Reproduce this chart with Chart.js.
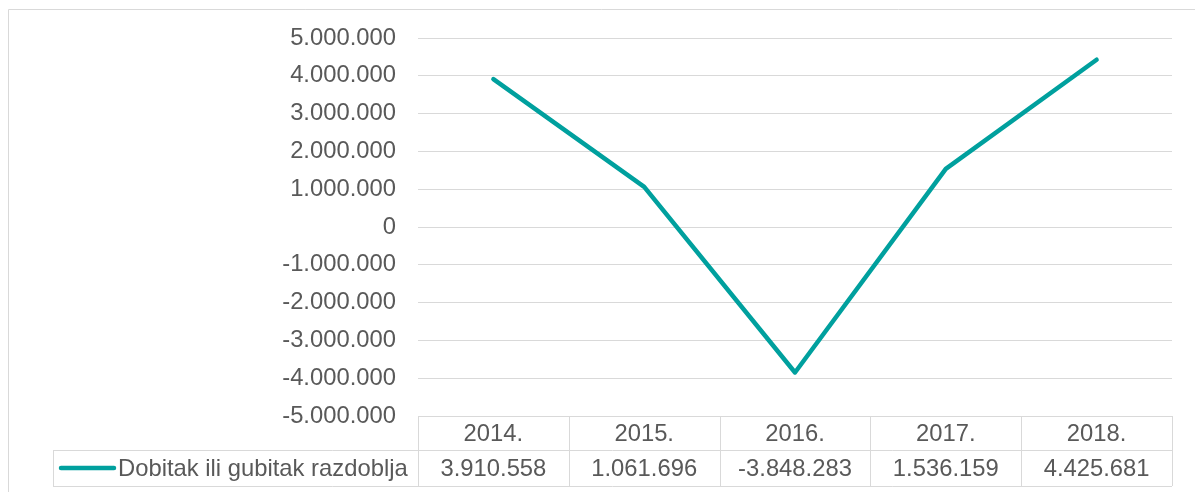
<!DOCTYPE html>
<html>
<head>
<meta charset="utf-8">
<script src="https://cdn.jsdelivr.net/npm/chart.js@4.4.0/dist/chart.umd.min.js"></script>
<style>
  html, body { margin: 0; padding: 0; background: #fff; }
  #wrap { width: 1195px; height: 492px; }
</style>
</head>
<body>
<div id="wrap"><canvas id="chart" width="1195" height="492"></canvas></div>
<script>
// --- data
const years = ["2014.", "2015.", "2016.", "2017.", "2018."];
const seriesName = "Dobitak ili gubitak razdoblja";
const profit = [3910558, 1061696, -3848283, 1536159, 4425681];
const yMin = -5000000, yMax = 5000000, yStep = 1000000;

const TEAL = "#00A09E";
const GRID = "#D9D9D9";
const TEXT = "#595959";
const FONT = "Liberation Sans, Arial, sans-serif";
const FSIZE = 23.8;

// 1234567 -> 1.234.567
function fmt(v) {
  const s = String(Math.abs(Math.round(v))).replace(/\B(?=(\d{3})+(?!\d))/g, ".");
  return (v < 0 ? "-" : "") + s;
}

// data table under the plot (Excel style)
const dataTable = {
  id: "dataTable",
  beforeDraw(chart) {
    const ctx = chart.ctx;
    ctx.save();
    ctx.strokeStyle = GRID;
    ctx.lineWidth = 1;
    ctx.beginPath();
    ctx.moveTo(8.5, 492);
    ctx.lineTo(8.5, 9.5);
    ctx.lineTo(1195, 9.5);
    ctx.stroke();
    ctx.restore();
  },
  afterDraw(chart) {
    const { ctx, chartArea, scales } = chart;
    const x = scales.x;
    const n = years.length;
    const colW = (chartArea.right - chartArea.left) / n;
    const top = chartArea.bottom;
    const mid = top + 34;
    const bot = mid + 36;
    const legendLeft = 53;

    ctx.save();
    ctx.strokeStyle = GRID;
    ctx.lineWidth = 1;
    ctx.beginPath();
    // horizontal lines
    ctx.moveTo(legendLeft, Math.round(mid) + 0.5);
    ctx.lineTo(chartArea.right, Math.round(mid) + 0.5);
    ctx.moveTo(legendLeft, Math.round(bot) + 0.5);
    ctx.lineTo(chartArea.right, Math.round(bot) + 0.5);
    // vertical lines
    for (let i = 0; i <= n; i++) {
      const px = Math.round(x.getPixelForValue(i) - colW / 2) + 0.5;
      const cx = i === n ? Math.round(x.getPixelForValue(n - 1) + colW / 2) + 0.5 : px;
      ctx.moveTo(cx, top);
      ctx.lineTo(cx, bot);
    }
    ctx.moveTo(legendLeft + 0.5, mid);
    ctx.lineTo(legendLeft + 0.5, bot);
    ctx.stroke();

    ctx.fillStyle = TEXT;
    ctx.font = FSIZE + "px " + FONT;
    ctx.textAlign = "center";
    ctx.textBaseline = "middle";
    for (let i = 0; i < n; i++) {
      const cx = x.getPixelForValue(i);
      ctx.fillText(years[i], cx, (top + mid) / 2 + 1);
      ctx.fillText(fmt(profit[i]), cx, (mid + bot) / 2 + 1);
    }

    // legend key
    const ly = (mid + bot) / 2;
    ctx.strokeStyle = TEAL;
    ctx.lineWidth = 4.5;
    ctx.lineCap = "round";
    ctx.beginPath();
    ctx.moveTo(61, ly);
    ctx.lineTo(114, ly);
    ctx.stroke();
    ctx.textAlign = "left";
    ctx.fillText(seriesName, 118, ly + 1);
    ctx.restore();
  }
};

new Chart(document.getElementById("chart"), {
  type: "line",
  data: {
    labels: years,
    datasets: [{
      label: seriesName,
      data: profit,
      borderColor: TEAL,
      borderWidth: 4.5,
      borderCapStyle: "round",
      borderJoinStyle: "round",
      pointRadius: 0,
      tension: 0,
      fill: false
    }]
  },
  options: {
    responsive: false,
    animation: false,
    layout: { padding: { left: 0, top: 38, right: 23, bottom: 76 } },
    plugins: { legend: { display: false }, tooltip: { enabled: false } },
    scales: {
      x: { display: false, offset: true },
      y: {
        min: yMin,
        max: yMax,
        afterFit(scale) { scale.width = 418; },
        border: { display: false },
        grid: { color: GRID, lineWidth: 1, drawTicks: false },
        ticks: {
          stepSize: yStep,
          padding: 22,
          color: TEXT,
          font: { family: FONT, size: FSIZE },
          callback: v => fmt(v)
        }
      }
    }
  },
  plugins: [dataTable]
});
</script>
</body>
</html>
